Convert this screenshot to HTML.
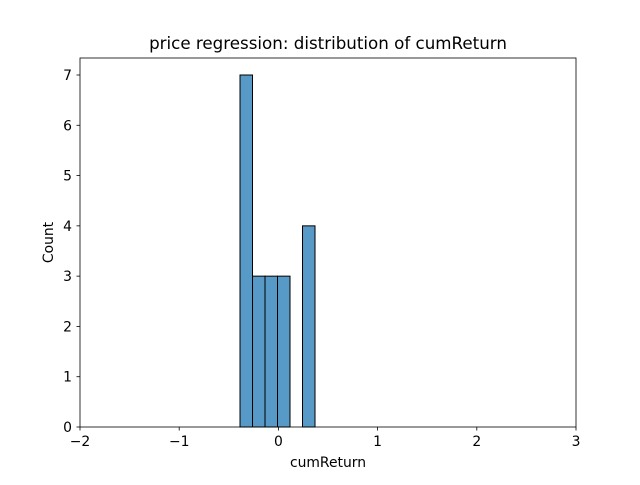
<!DOCTYPE html>
<html><head><meta charset="utf-8"><style>
body{margin:0;background:#fff;}
svg text{font-family:"DejaVu Sans","Liberation Sans",sans-serif;fill:#000;}
</style></head><body>
<svg id="chart" width="640" height="480">
<rect width="640" height="480" fill="#fff"/>
<text x="328" y="49" font-size="16.7" text-anchor="middle">price regression: distribution of cumReturn</text>
<g id="bars"></g>
<rect x="80" y="58" width="496" height="369" fill="none" stroke="#000" stroke-width="0.8"/>
<g id="xt"></g><g id="yt"></g>
<text x="328" y="467" font-size="13.9" text-anchor="middle">cumReturn</text>
<text x="0" y="0" font-size="13.9" text-anchor="middle" transform="translate(53,242.5) rotate(-90)">Count</text>
</svg>
<script>
const binStart = -0.387;
const binWidth = 0.126;
const counts = [7, 3, 3, 3, 0, 4];
const xTicks = [-2, -1, 0, 1, 2, 3];
const yTicks = [0, 1, 2, 3, 4, 5, 6, 7];
const xs = v => 80 + (v + 2) * 496 / 5;
const ys = v => 427 - v * (352 / 7);
const NS = "http://www.w3.org/2000/svg";
const bars = document.getElementById('bars');
counts.forEach((c, i) => {
  if (c <= 0) return;
  const r = document.createElementNS(NS, 'rect');
  const x0 = xs(binStart + i * binWidth), x1 = xs(binStart + (i + 1) * binWidth);
  r.setAttribute('x', x0); r.setAttribute('width', x1 - x0);
  r.setAttribute('y', ys(c)); r.setAttribute('height', ys(0) - ys(c));
  r.setAttribute('fill', 'rgba(31,119,180,0.75)'); r.setAttribute('stroke', '#000'); r.setAttribute('stroke-width', '1');
  
  
  bars.appendChild(r);
});
const xt = document.getElementById('xt');
xTicks.forEach(t => {
  const x = xs(t);
  const l = document.createElementNS(NS, 'line');
  l.setAttribute('x1', x); l.setAttribute('x2', x); l.setAttribute('y1', 427); l.setAttribute('y2', 430.5);
  l.setAttribute('stroke', '#000'); l.setAttribute('stroke-width', '0.8');
  
  
  xt.appendChild(l);
  const tx = document.createElementNS(NS, 'text');
  tx.setAttribute('x', x); tx.setAttribute('y', 446); tx.setAttribute('font-size', '13.9'); tx.setAttribute('text-anchor', 'middle');
  tx.textContent = t < 0 ? '\u2212' + Math.abs(t) : String(t);
  
  
  xt.appendChild(tx);
});
const yt = document.getElementById('yt');
yTicks.forEach(t => {
  const y = ys(t);
  const l = document.createElementNS(NS, 'line');
  l.setAttribute('x1', 76.5); l.setAttribute('x2', 80); l.setAttribute('y1', y); l.setAttribute('y2', y);
  l.setAttribute('stroke', '#000'); l.setAttribute('stroke-width', '0.8');
  
  
  yt.appendChild(l);
  const tx = document.createElementNS(NS, 'text');
  tx.setAttribute('x', 72); tx.setAttribute('y', y + 5); tx.setAttribute('font-size', '13.9'); tx.setAttribute('text-anchor', 'end');
  tx.textContent = String(t);
  
  
  yt.appendChild(tx);
});
</script>
</body></html>
